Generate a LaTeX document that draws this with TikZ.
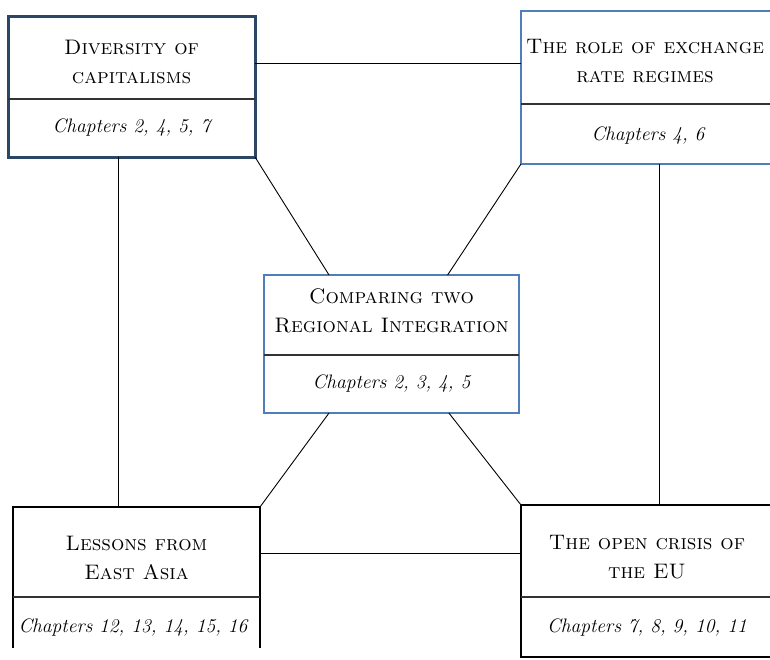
\documentclass[tikz,border=0pt]{standalone}
\usetikzlibrary{calc}
\definecolor{navy}{HTML}{2C4766}
\definecolor{steel}{HTML}{4F7FB8}
\definecolor{rule}{HTML}{333333}
\tikzset{
  box/.style={rectangle, inner sep=0pt, outer sep=0pt, anchor=north west},
  divider/.style={draw=rule, line width=1.4pt},
  link/.style={draw=black, line width=0.9pt},
  title/.style={align=center, inner sep=0pt, font=\fontsize{21}{29}\selectfont\scshape},
  chap/.style={inner sep=0pt, font=\fontsize{19.5}{24}\selectfont\itshape},
}
\begin{document}
\begin{tikzpicture}[x=1pt,y=-1pt]
\clip (0,0) rectangle (770,659);
\fill[white] (0,0) rectangle (770,659);

% box outlines
\node[box, draw=navy, line width=3pt, minimum width=247pt, minimum height=141pt] (divbox) at (8,16) {};
\node[box, draw=steel, line width=1.8pt, minimum width=254pt, minimum height=153pt] (ratebox) at (521,11) {};
\node[box, draw=steel, line width=1.8pt, minimum width=255pt, minimum height=138pt] (cmpbox) at (264,275) {};
\node[box, minimum width=247pt, minimum height=141pt] (lessbox) at (13,507) {};
\node[box, draw=black, line width=1.2pt, minimum width=254pt, minimum height=152pt] (eubox) at (521,505) {};
\draw[black, line width=1.2pt] (lessbox.south west) -- (lessbox.north west) -- (lessbox.north east) -- (lessbox.south east);

% section dividers
\draw[divider] (divbox.west |- 0,99) -- (divbox.east |- 0,99);
\draw[divider] (ratebox.west |- 0,104) -- (ratebox.east |- 0,104);
\draw[divider] (cmpbox.west |- 0,355) -- (cmpbox.east |- 0,355);
\draw[divider] (lessbox.west |- 0,597) -- (lessbox.east |- 0,597);
\draw[divider] (eubox.west |- 0,597) -- (eubox.east |- 0,597);

% titles
\node[title] (divtitle) at (131.5,62) {Diversity of\\capitalisms};
\node[title] (ratetitle) at (645,61) {The role of exchange\\rate regimes};
\node[title] (cmptitle) at (391.5,311) {Comparing two\\Regional Integration};
\node[title] (lesstitle) at (136.5,558) {Lessons from\\East Asia};
\node[title] (eutitle) at (647,557) {The open crisis of\\the EU};

% chapter references
\node[chap] (divchap) at (131.5,128) {Chapters 2, 4, 5, 7};
\node[chap] (ratechap) at (648,136) {Chapters 4, 6};
\node[chap] (cmpchap) at (391.5,384) {Chapters 2, 3, 4, 5};
\node[chap] (lesschap) at (133,628) {Chapters 12, 13, 14, 15, 16};
\node[chap] (euchap) at (647,628) {Chapters 7, 8, 9, 10, 11};

% connectors
\draw[link] (divbox.east |- 0,63) -- (ratebox.west |- 0,63);
\draw[link] (lessbox.east |- 0,553) -- (eubox.west |- 0,553);
\draw[link] (divbox.south -| 118,0) -- (lessbox.north -| 118,0);
\draw[link] (ratebox.south -| 659,0) -- (eubox.north -| 659,0);
\draw[link] (divbox.south east) -- ($(cmpbox.north west)!0.255!(cmpbox.north east)$);
\draw[link] (ratebox.south west) -- ($(cmpbox.north west)!0.72!(cmpbox.north east)$);
\draw[link] ($(cmpbox.south west)!0.255!(cmpbox.south east)$) -- (lessbox.north east);
\draw[link] ($(cmpbox.south west)!0.725!(cmpbox.south east)$) -- (eubox.north west);
\end{tikzpicture}
\end{document}
